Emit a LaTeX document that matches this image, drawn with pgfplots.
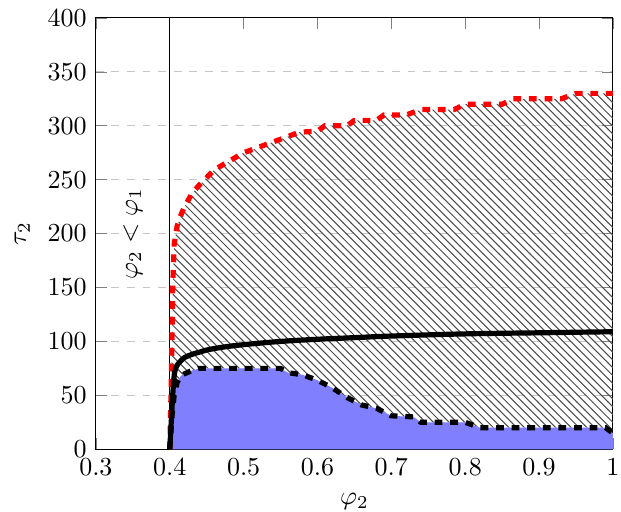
\documentclass[border=0pt]{standalone}
\usepackage{pgfplots}
\usepackage{pgfplotstable}
\pgfplotsset{compat=1.18}
\usepgfplotslibrary{fillbetween}
\usetikzlibrary{patterns}
\pgfplotstableread{
x y
0.400 0
0.402 60
0.403 100
0.404 150
0.406 190
0.410 207
0.415 217
0.420 225
0.430 237
0.440 245
0.450 252
0.460 259
0.480 267
0.500 275
0.520 280
0.540 285
0.560 290
0.575 294
0.600 295
0.610 300
0.640 300
0.650 305
0.680 305
0.690 310
0.720 310
0.740 315
0.785 315
0.800 320
0.850 320
0.865 325
0.930 325
0.950 330
1.000 330
}\updata
\pgfplotstableread{
x y
0.400 0
0.403 30
0.406 50
0.410 62
0.415 68
0.420 70
0.430 73
0.440 75
0.550 75
0.560 71
0.580 69
0.600 64
0.620 57
0.640 48
0.660 41
0.680 38
0.700 31
0.730 30
0.740 25
0.800 25
0.820 20
0.990 20
1.000 15
}\lodata
\pgfplotstableread{
x y
0.400 0
0.402 25
0.404 50
0.406 68
0.408 75
0.410 78
0.415 82
0.420 85
0.430 88
0.440 90
0.450 92
0.470 94.5
0.500 97
0.550 100
0.600 102
0.650 103.5
0.700 105
0.800 107
0.900 108
1.000 109
}\soldata
\begin{document}
\begin{tikzpicture}
\begin{axis}[
  scale only axis,
  width=199pt, height=166pt,
  xmin=0.3, xmax=1, ymin=0, ymax=400,
  xtick={0.3,0.4,0.5,0.6,0.7,0.8,0.9,1},
  ytick={0,50,100,150,200,250,300,350,400},
  ymajorgrids,
  major grid style={dashed, gray!45},
  xlabel={$\varphi_2$}, ylabel={$\tau_2$},
]
\addplot[draw=none, name path=up, forget plot] table {\updata};
\addplot[draw=none, name path=lo, forget plot] table {\lodata};
\addplot[fill=blue!50, draw=none, forget plot] table {\lodata} \closedcycle;
\addplot[pattern=north west lines, pattern color=black!70, draw=none, forget plot] fill between[of=up and lo];
\addplot[black, line width=0.5pt, forget plot] coordinates {(0.4,0) (0.4,400)};
\addplot[red, line width=2pt, dashed] table {\updata};
\addplot[black, line width=2pt, dashed] table {\lodata};
\addplot[black, line width=2pt, smooth] table {\soldata};
\node[rotate=90] at (axis cs:0.35,200) {$\varphi_2 < \varphi_1$};
\end{axis}
\pgfresetboundingbox
\path[use as bounding box] ([xshift=-36.9pt,yshift=-23.8pt]current axis.south west) rectangle ([xshift=3.1pt,yshift=6.9pt]current axis.north east);
\end{tikzpicture}
\end{document}
